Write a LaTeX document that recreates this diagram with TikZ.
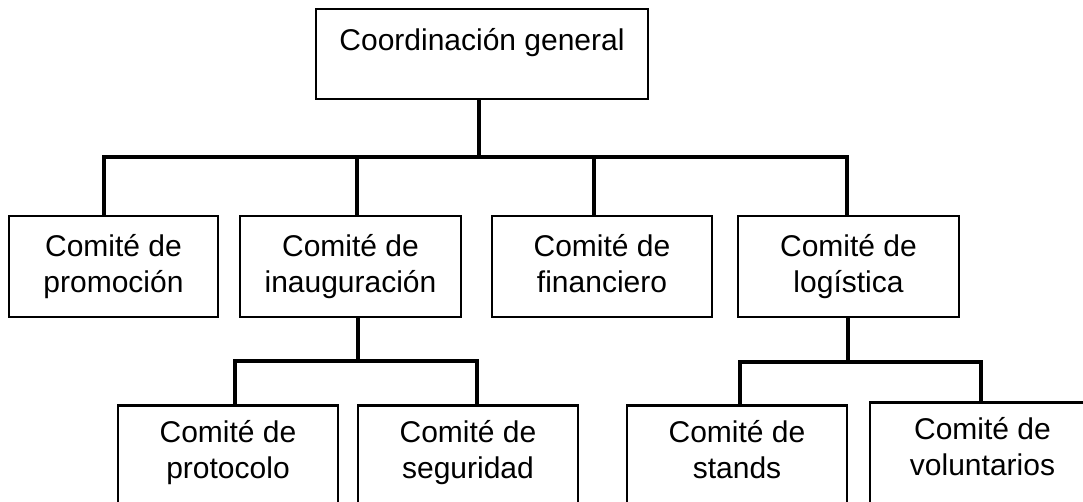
\documentclass[tikz,border=0pt]{standalone}
\usepackage{fontspec}
\setmainfont{Liberation Sans}
\begin{document}
\begin{tikzpicture}[x=1pt,y=-1pt,
  box/.style={draw=black,line width=2.5pt,rectangle,inner sep=0pt,align=center,
    font=\fontsize{30}{36}\selectfont,text depth=7pt},
  conn/.style={draw=black,line width=3.5pt,line cap=rect}]
\useasboundingbox (0,0) rectangle (1083,502);
% top
\node[box,minimum width=332,minimum height=90] (top) at (482,54) {};
\node[font=\fontsize{30}{36}\selectfont,inner sep=0pt] (topt) at (482,43) {Coordinación general};
% level 2
\node[box,minimum width=209,minimum height=101] (b1) at (113.5,266.5) {Comité de\\promoción};
\node[box,minimum width=221,minimum height=101] (b2) at (350.5,266.5) {Comité de\\inauguración};
\node[box,minimum width=220,minimum height=101] (b3) at (602,266.5) {Comité de\\financiero};
\node[box,minimum width=221,minimum height=101] (b4) at (848.5,266.5) {Comité de\\logística};
% level 3
\node[box,minimum width=220,minimum height=118,text depth=30pt,anchor=north] (c1) at (228,404) {Comité de\\protocolo};
\node[box,minimum width=220,minimum height=118,text depth=30pt,anchor=north] (c2) at (468,404) {Comité de\\seguridad};
\node[box,minimum width=220,minimum height=118,text depth=30pt,anchor=north] (c3) at (737,404) {Comité de\\stands};
\node[box,minimum width=225,minimum height=118,text depth=30pt,anchor=north] (c4) at (982.5,401) {Comité de\\voluntarios};
% bus coordinates
\coordinate (bus1) at (479,157);
\coordinate (bus2) at (358,361);
\coordinate (bus3) at (848,362);
% connectors level 1-2
\draw[conn] ([xshift=-3]top.south) -- ([xshift=-3]top.south |- bus1);
\draw[conn] ([xshift=-9.5]b1.north |- bus1) -- ([xshift=-1.5]b4.north |- bus1);
\draw[conn] ([xshift=-9.5]b1.north) -- ([xshift=-9.5]b1.north |- bus1);
\draw[conn] ([xshift=6.5]b2.north) -- ([xshift=6.5]b2.north |- bus1);
\draw[conn] ([xshift=-8]b3.north) -- ([xshift=-8]b3.north |- bus1);
\draw[conn] ([xshift=-1.5]b4.north) -- ([xshift=-1.5]b4.north |- bus1);
% inauguración branch
\draw[conn] ([xshift=7.5]b2.south) -- ([xshift=7.5]b2.south |- bus2);
\draw[conn] ([xshift=7]c1.north) |- (bus2) -| ([xshift=9]c2.north);
% logística branch
\draw[conn] ([xshift=-0.5]b4.south) -- ([xshift=-0.5]b4.south |- bus3);
\draw[conn] ([xshift=3]c3.north) |- (bus3) -| ([xshift=-1.5]c4.north);
\end{tikzpicture}
\end{document}
